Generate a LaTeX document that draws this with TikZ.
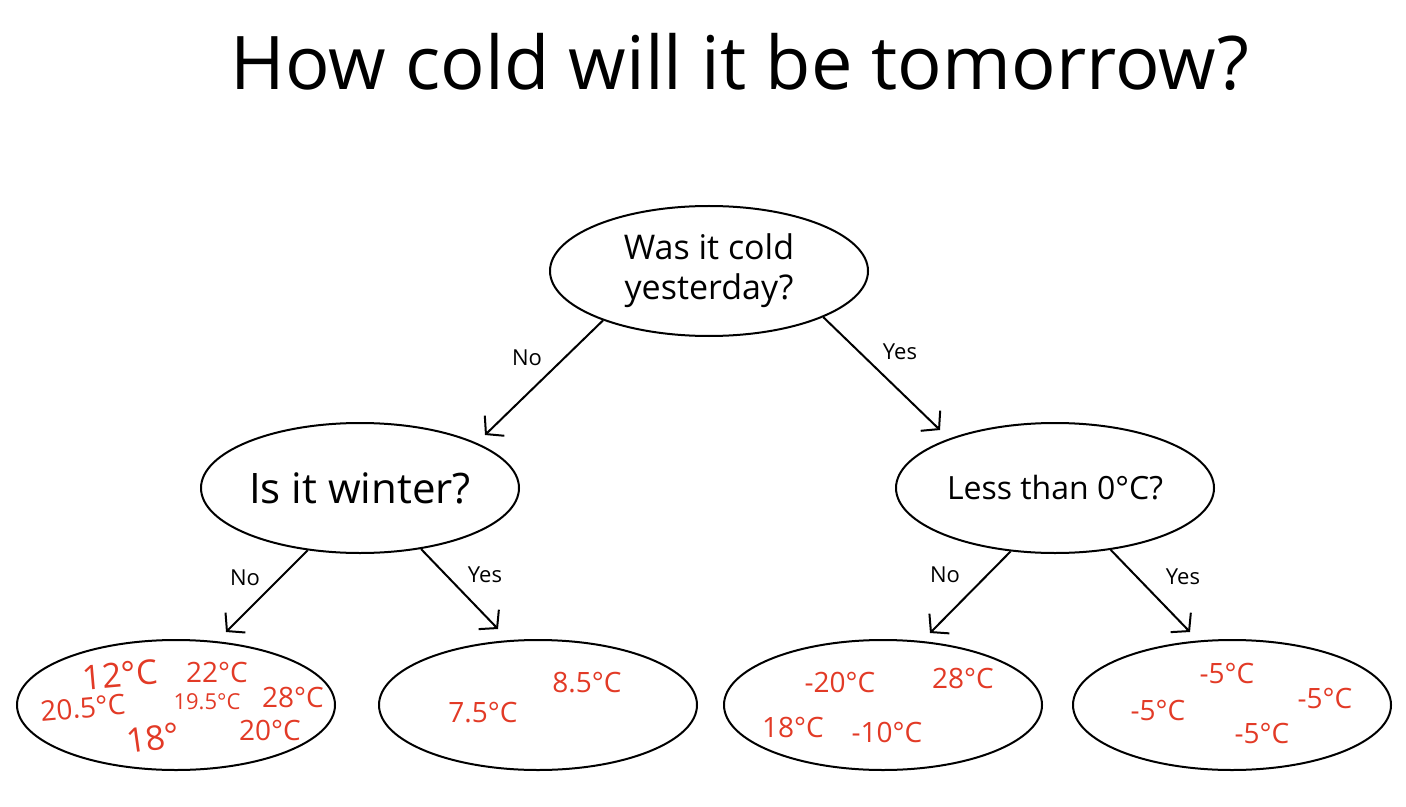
\documentclass[tikz,border=0pt]{standalone}
\usepackage{fontspec}
\setmainfont{Open Sans}
\usetikzlibrary{shapes.geometric,arrows.meta}
\definecolor{tempred}{RGB}{226,58,38}
\tikzset{
  question/.style={draw,ellipse,line width=1pt,minimum width=159pt,minimum height=65pt,
    inner sep=0pt,align=center,font=\fontsize{19}{21}\selectfont},
  bin/.style={question},
  branch/.style={line width=1pt,-{Straight Barb[length=6pt,width=14pt]}},
  answer/.style={font=\fontsize{11}{13}\selectfont},
  temp/.style={text=tempred,font=\fontsize{14}{16}\selectfont},
}
\begin{document}
\begin{tikzpicture}[x=0.5pt,y=-0.5pt]
\useasboundingbox (0,0) rectangle (1406,807);
% title
\node [font=\fontsize{37}{42}\selectfont] (title) at (740,62) {How cold will it be tomorrow?};
% questions
\node [question,font=\fontsize{17}{20}\selectfont] (cold) at (709,271) {Was it cold\\yesterday?};
\node [question,font=\fontsize{21}{23}\selectfont] (winter) at (360,488) {Is it winter?};
\node [question,font=\fontsize{16}{18}\selectfont] (zero) at (1055,488) {Less than 0°C?};
% bins of temperatures
\node [bin] (binA) at (176,705) {};
\node [bin] (binB) at (538,705) {};
\node [bin] (binC) at (883,705) {};
\node [bin] (binD) at (1232,705) {};
% arrow ends
\coordinate (endA) at (485,435);
\coordinate (endB) at (940,430);
\coordinate (endC) at (226,632);
\coordinate (endD) at (498,629);
\coordinate (endE) at (930,633);
\coordinate (endF) at (1190,632);
\draw [branch] (cold.205) -- (endA);
\draw [branch] (cold.338) -- (endB);
\draw [branch] (winter.230) -- (endC);
\draw [branch] (winter.315) -- (endD);
\draw [branch] (zero.235) -- (endE);
\draw [branch] (zero.312) -- (endF);
\node [answer] (noA) at (527,358) {No};
\node [answer] (yesA) at (900,352) {Yes};
\node [answer] (noB) at (245,578) {No};
\node [answer] (yesB) at (485,575) {Yes};
\node [answer] (noC) at (945,575) {No};
\node [answer] (yesC) at (1183,577) {Yes};
% temperatures
\node [temp,font=\fontsize{17}{19}\selectfont,rotate=5] (tA1) at (120,675) {12°C};
\node [temp] (tA2) at (217,672) {22°C};
\node [temp,rotate=5] (tA3) at (83,708) {20.5°C};
\node [temp,font=\fontsize{11}{13}\selectfont] (tA4) at (207,702) {19.5°C};
\node [temp] (tA5) at (293,697) {28°C};
\node [temp,font=\fontsize{17}{19}\selectfont,rotate=8] (tA6) at (153,738) {18°};
\node [temp] (tA7) at (270,730) {20°C};
\node [temp] (tB1) at (587,683) {8.5°C};
\node [temp] (tB2) at (483,713) {7.5°C};
\node [temp] (tC1) at (840,682) {-20°C};
\node [temp] (tC2) at (963,678) {28°C};
\node [temp] (tC3) at (793,727) {18°C};
\node [temp] (tC4) at (887,732) {-10°C};
\node [temp] (tD1) at (1227,673) {-5°C};
\node [temp] (tD2) at (1158,710) {-5°C};
\node [temp] (tD3) at (1325,698) {-5°C};
\node [temp] (tD4) at (1262,733) {-5°C};
\end{tikzpicture}
\end{document}
